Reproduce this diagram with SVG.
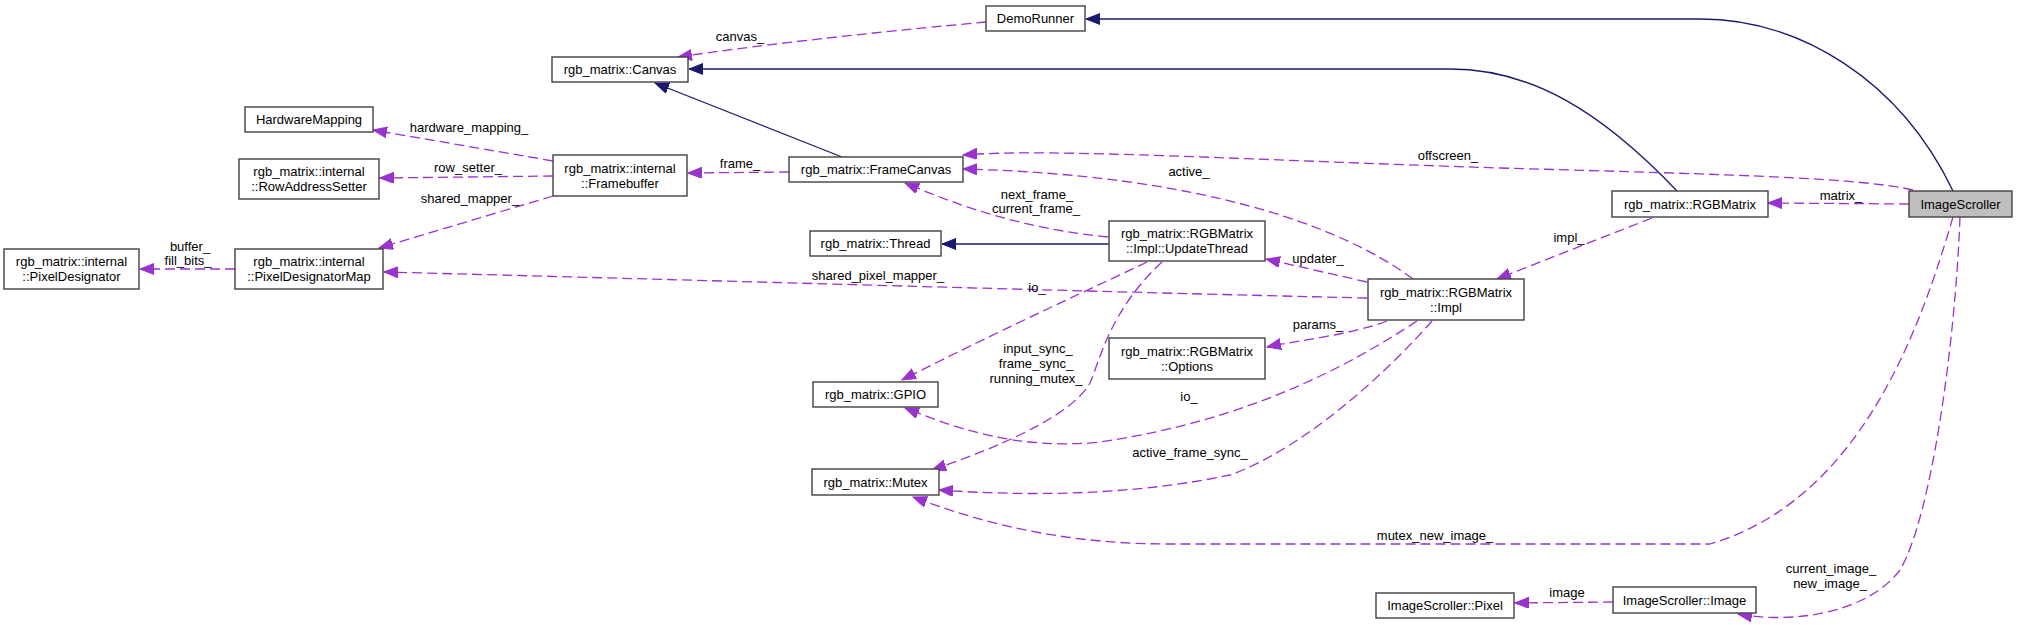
<svg xmlns="http://www.w3.org/2000/svg" width="2017" height="625" viewBox="0 0 2017 625">
<style>
.node rect{fill:#ffffff;stroke:#404040;stroke-width:1.4}
.node.sel rect{fill:#bfbfbf}
text{font-family:"Liberation Sans",Arial,sans-serif;font-size:13px;fill:#000000}
.node text{text-anchor:middle}
.lbl{text-anchor:middle}
.inh{fill:none;stroke:#191970;stroke-width:1.3}
.use{fill:none;stroke:#9a32cd;stroke-width:1.3;stroke-dasharray:10,5}
</style>
<defs>
<marker id="ab" markerUnits="userSpaceOnUse" markerWidth="15" markerHeight="12" refX="14" refY="5.5" orient="auto">
<path d="M0,0 L14,5.5 L0,11 Z" fill="#191970" stroke="#191970" stroke-width="1"/>
</marker>
<marker id="ap" markerUnits="userSpaceOnUse" markerWidth="15" markerHeight="12" refX="14" refY="5.5" orient="auto">
<path d="M0,0 L14,5.5 L0,11 Z" fill="#9a32cd" stroke="#9a32cd" stroke-width="1"/>
</marker>
</defs>
<rect width="2017" height="625" fill="#ffffff"/>
<g id="connectors">
<path class="inh" marker-end="url(#ab)" d="M1953,191 C1900,80 1800,19 1700,19 L1086,19"/>
<path class="inh" marker-end="url(#ab)" d="M1677,191 C1600,110 1530,69 1450,69 L689,69"/>
<path class="inh" marker-end="url(#ab)" d="M842,157 L655,83"/>
<path class="inh" marker-end="url(#ab)" d="M1109,244 L942,244"/>
<path class="use" marker-end="url(#ap)" d="M986,22 C900,30 780,42 678,57"/>
<path class="use" marker-end="url(#ap)" d="M789,172 L688,173"/>
<path class="use" marker-end="url(#ap)" d="M553,161 L373,130"/>
<path class="use" marker-end="url(#ap)" d="M553,176 L380,178"/>
<path class="use" marker-end="url(#ap)" d="M553,196 L379,248"/>
<path class="use" marker-end="url(#ap)" d="M235,269 L140,269"/>
<path class="use" marker-end="url(#ap)" d="M1367,298 C1100,292 700,280 384,272"/>
<path class="use" marker-end="url(#ap)" d="M1367,282 L1266,259"/>
<path class="use" marker-end="url(#ap)" d="M1413,279 C1340,225 1200,175 963,169"/>
<path class="use" marker-end="url(#ap)" d="M1913,190 C1860,178 1750,175 1500,168 C1250,160 1050,148 963,155"/>
<path class="use" marker-end="url(#ap)" d="M1909,204 L1768,203"/>
<path class="use" marker-end="url(#ap)" d="M1652,218 L1497,279"/>
<path class="use" marker-end="url(#ap)" d="M1108,237 C1040,230 980,215 905,183"/>
<path class="use" marker-end="url(#ap)" d="M1147,262 C1110,280 1000,330 902,380"/>
<path class="use" marker-end="url(#ap)" d="M1162,262 C1110,310 1100,360 1090,383 C1075,410 1020,440 932,470"/>
<path class="use" marker-end="url(#ap)" d="M1387,321 C1350,335 1300,340 1267,347"/>
<path class="use" marker-end="url(#ap)" d="M1417,321 C1350,365 1250,420 1100,442 C1020,450 960,430 905,408"/>
<path class="use" marker-end="url(#ap)" d="M1432,321 C1380,380 1300,450 1230,475 C1150,492 1050,498 939,490"/>
<path class="use" marker-end="url(#ap)" d="M1953,217 C1920,330 1860,500 1710,544 L1170,544 C1080,544 1000,530 913,497"/>
<path class="use" marker-end="url(#ap)" d="M1960,217 C1955,350 1930,520 1900,570 C1870,610 1800,625 1738,614"/>
<path class="use" marker-end="url(#ap)" d="M1613,602 L1515,603"/>
<text class="lbl" x="740" y="41">canvas_</text>
<text class="lbl" x="469" y="132">hardware_mapping_</text>
<text class="lbl" x="468" y="172">row_setter_</text>
<text class="lbl" x="470" y="203">shared_mapper_</text>
<text class="lbl" x="190" y="251">buffer_</text>
<text class="lbl" x="188" y="265">fill_bits_</text>
<text class="lbl" x="740" y="168">frame_</text>
<text class="lbl" x="878" y="280">shared_pixel_mapper_</text>
<text class="lbl" x="1037" y="292">io_</text>
<text class="lbl" x="1037" y="199">next_frame_</text>
<text class="lbl" x="1036" y="213">current_frame_</text>
<text class="lbl" x="1189" y="176">active_</text>
<text class="lbl" x="1448" y="160">offscreen_</text>
<text class="lbl" x="1841" y="200">matrix_</text>
<text class="lbl" x="1569" y="242">impl_</text>
<text class="lbl" x="1318" y="263">updater_</text>
<text class="lbl" x="1318" y="329">params_</text>
<text class="lbl" x="1038" y="353">input_sync_</text>
<text class="lbl" x="1036" y="368">frame_sync_</text>
<text class="lbl" x="1036" y="383">running_mutex_</text>
<text class="lbl" x="1189" y="401">io_</text>
<text class="lbl" x="1190" y="457">active_frame_sync_</text>
<text class="lbl" x="1435" y="540">mutex_new_image_</text>
<text class="lbl" x="1831" y="573">current_image_</text>
<text class="lbl" x="1830" y="588">new_image_</text>
<text class="lbl" x="1567" y="597">image</text>
</g>
<g id="n_ImageScroller" class="node sel"><rect x="1909" y="191" width="103" height="26"/><text x="1960.5" y="208.5">ImageScroller</text></g>
<g id="n_DemoRunner" class="node"><rect x="986" y="6" width="99" height="25"/><text x="1035.5" y="23">DemoRunner</text></g>
<g id="n_Canvas" class="node"><rect x="552" y="57" width="136" height="25"/><text x="620" y="74">rgb_matrix::Canvas</text></g>
<g id="n_HardwareMapping" class="node"><rect x="245" y="107" width="128" height="25"/><text x="309" y="124">HardwareMapping</text></g>
<g id="n_RowAddressSetter" class="node"><rect x="239" y="159" width="140" height="40"/><text x="309" y="176">rgb_matrix::internal</text><text x="309" y="191">::RowAddressSetter</text></g>
<g id="n_Framebuffer" class="node"><rect x="553" y="155" width="134" height="41"/><text x="620" y="172.5">rgb_matrix::internal</text><text x="620" y="187.5">::Framebuffer</text></g>
<g id="n_FrameCanvas" class="node"><rect x="789" y="157" width="174" height="25"/><text x="876" y="174">rgb_matrix::FrameCanvas</text></g>
<g id="n_PixelDesignator" class="node"><rect x="4" y="249" width="135" height="40"/><text x="71.5" y="266">rgb_matrix::internal</text><text x="71.5" y="281">::PixelDesignator</text></g>
<g id="n_PixelDesignatorMap" class="node"><rect x="235" y="249" width="148" height="40"/><text x="309" y="266">rgb_matrix::internal</text><text x="309" y="281">::PixelDesignatorMap</text></g>
<g id="n_Thread" class="node"><rect x="810" y="231" width="131" height="25"/><text x="875.5" y="248">rgb_matrix::Thread</text></g>
<g id="n_UpdateThread" class="node"><rect x="1109" y="221" width="156" height="40"/><text x="1187" y="238">rgb_matrix::RGBMatrix</text><text x="1187" y="253">::Impl::UpdateThread</text></g>
<g id="n_RGBMatrix" class="node"><rect x="1612" y="191" width="156" height="26"/><text x="1690" y="208.5">rgb_matrix::RGBMatrix</text></g>
<g id="n_Impl" class="node"><rect x="1368" y="279" width="156" height="41"/><text x="1446" y="296.5">rgb_matrix::RGBMatrix</text><text x="1446" y="311.5">::Impl</text></g>
<g id="n_Options" class="node"><rect x="1109" y="338" width="156" height="41"/><text x="1187" y="355.5">rgb_matrix::RGBMatrix</text><text x="1187" y="370.5">::Options</text></g>
<g id="n_GPIO" class="node"><rect x="813" y="382" width="125" height="25"/><text x="875.5" y="399">rgb_matrix::GPIO</text></g>
<g id="n_Mutex" class="node"><rect x="812" y="469" width="127" height="26"/><text x="875.5" y="486.5">rgb_matrix::Mutex</text></g>
<g id="n_Pixel" class="node"><rect x="1376" y="593" width="138" height="25"/><text x="1445" y="610">ImageScroller::Pixel</text></g>
<g id="n_Image" class="node"><rect x="1613" y="587" width="143" height="26"/><text x="1684.5" y="604.5">ImageScroller::Image</text></g>
</svg>
